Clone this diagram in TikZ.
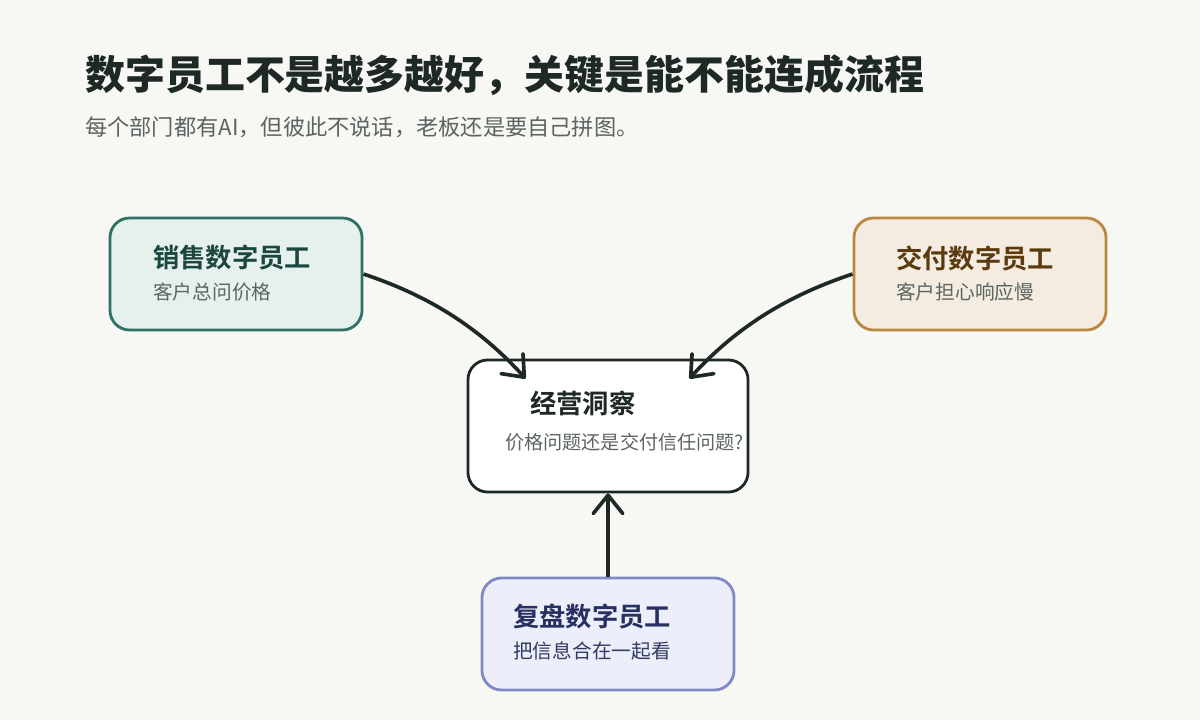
\documentclass[tikz,border=0pt]{standalone}
\usepackage{fontspec}
\setmainfont{Noto Sans CJK SC}[BoldFont={Noto Sans CJK SC Bold}]
\newfontfamily\heavyfont{Noto Sans CJK SC Black}
\usetikzlibrary{arrows.meta}
\definecolor{bg}{HTML}{F7F7F3}
\definecolor{ink}{HTML}{1E2926}
\definecolor{greytext}{HTML}{5C6461}
\definecolor{salesfill}{HTML}{E6F1EE}
\definecolor{salesline}{HTML}{2F7067}
\definecolor{salestext}{HTML}{1C4640}
\definecolor{delivfill}{HTML}{F4ECE1}
\definecolor{delivline}{HTML}{B9873F}
\definecolor{delivtext}{HTML}{5B3A0F}
\definecolor{reviewfill}{HTML}{ECEEFA}
\definecolor{reviewline}{HTML}{7F89C8}
\definecolor{reviewtext}{HTML}{283062}
\tikzset{
card/.style={draw, rounded corners=14pt, line width=2pt, minimum width=6.3cm, minimum height=2.8cm},
head/.style={anchor=west, inner sep=0pt, font=\fontsize{18.7}{22}\selectfont\bfseries},
note/.style={anchor=west, inner sep=0pt, font=\fontsize{14}{17}\selectfont},
link/.style={line width=2.6pt, draw=ink, -{Straight Barb[length=13pt,width=21pt,round]}}
}
\begin{document}
\begin{tikzpicture}[x=0.025cm,y=-0.025cm]
\fill[bg] (0,0) rectangle (1200,720);
\useasboundingbox (0,0) rectangle (1200,720);
\node[anchor=west, inner sep=0pt, text=ink, font=\fontsize{28.4}{33}\selectfont\heavyfont] (title) at (85,75) {数字员工不是越多越好，关键是能不能连成流程};
\node[anchor=west, inner sep=0pt, text=greytext, font=\fontsize{15.8}{19}\selectfont] (subtitle) at (85,127) {每个部门都有AI，但彼此不说话，老板还是要自己拼图。};
\node[card, fill=salesfill, draw=salesline] (sales) at (236,274) {};
\node[head, text=salestext] (saleshead) at (153,258) {销售数字员工};
\node[note, text=greytext] (salesnote) at (153,292) {客户总问价格};
\node[card, fill=delivfill, draw=delivline] (deliv) at (980,274) {};
\node[head, text=delivtext] (delivhead) at (896,258) {交付数字员工};
\node[note, text=greytext] (delivnote) at (896,292) {客户担心响应慢};
\node[card, fill=white, draw=ink, minimum width=7cm, minimum height=3.3cm] (insight) at (608,426) {};
\node[head, text=ink] (insighthead) at (530,403) {经营洞察};
\node[note, text=greytext, font=\fontsize{13.6}{17}\selectfont] (insightnote) at (505,442) {价格问题还是交付信任问题?};
\node[card, fill=reviewfill, draw=reviewline] (review) at (608,634) {};
\node[head, text=reviewtext] (reviewhead) at (513,617) {复盘数字员工};
\node[note, text=reviewtext!80!greytext] (reviewnote) at (513,651) {把信息合在一起看};
\draw[link] (sales.east) .. controls +(60,20) and +(-50,-55) .. ([shift={(59,20)}]insight.north west);
\draw[link] (deliv.west) .. controls +(-60,20) and +(50,-55) .. ([shift={(-60,20)}]insight.north east);
\draw[link] (review.north) -- (insight.south);
\end{tikzpicture}
\end{document}
